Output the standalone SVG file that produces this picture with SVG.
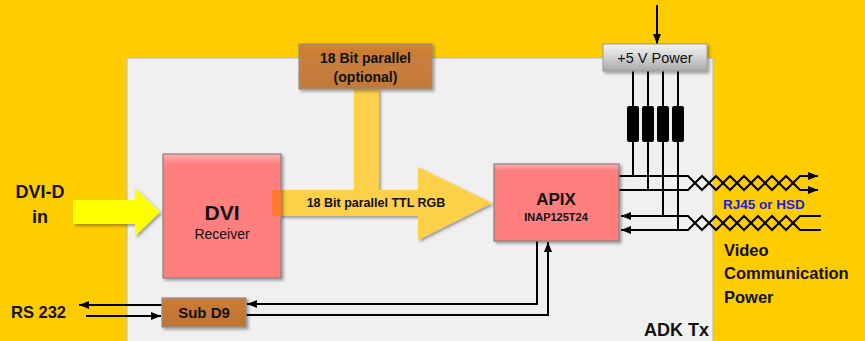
<svg xmlns="http://www.w3.org/2000/svg" width="865" height="341" viewBox="0 0 865 341">
<defs>
<style>
text{font-family:"Liberation Sans",Arial,sans-serif;fill:#111}
.b{font-weight:bold}
.ln{fill:none;stroke:#000;stroke-width:2}
.pink{fill:#FF7F7F;stroke:#808080;stroke-width:1.2}
.brown{fill:url(#gBrown);stroke:#8C8C8C;stroke-width:1.2}
.res{fill:#000}
</style>
<linearGradient id="gBrown" x1="0" y1="0" x2="0" y2="1">
<stop offset="0" stop-color="#D4823A"/><stop offset="0.15" stop-color="#C97A36"/><stop offset="1" stop-color="#C07432"/>
</linearGradient>
<linearGradient id="gGray" x1="0" y1="0" x2="0" y2="1">
<stop offset="0" stop-color="#F4F4F4"/><stop offset="0.5" stop-color="#D2D2D2"/><stop offset="1" stop-color="#A8A8A8"/>
</linearGradient>
<linearGradient id="gTop" x1="0" y1="0" x2="0" y2="1">
<stop offset="0" stop-color="#fff" stop-opacity="0.35"/><stop offset="0.08" stop-color="#fff" stop-opacity="0"/>
</linearGradient>
<filter id="sh" x="-10%" y="-10%" width="130%" height="130%">
<feDropShadow dx="2" dy="2" stdDeviation="1.5" flood-color="#000" flood-opacity="0.35"/>
</filter>
<marker id="ah" viewBox="0 0 10 8" refX="10" refY="4" markerWidth="11" markerHeight="8" markerUnits="userSpaceOnUse" orient="auto">
<path d="M0,0 L10,4 L0,8 z" fill="#000"/>
</marker>
</defs>
<rect x="0" y="0" width="865" height="341" fill="#FFCC00"/>
<g id="panel">
<rect x="127" y="58" width="586" height="290" fill="#F0F0F0" stroke="#B8B8B8" stroke-width="1"/>
<text x="709" y="336" class="b" font-size="18" text-anchor="end">ADK Tx</text>
</g>
<g id="connectors">
<polygon id="dvi-in-arrow" points="73,200 135,200 135,188 160,212 135,236 135,224 73,224" fill="#FFFF00" filter="url(#sh)"/>
<polygon id="rgb-bus" points="272,190 354,190 354,89 379,89 379,190 418,190 418,167 492,203 418,240 418,216 272,216" fill="#FDD048" filter="url(#sh)"/>
<line class="ln" x1="657" y1="5" x2="657" y2="44" marker-end="url(#ah)"/>
<line class="ln" x1="633" y1="71" x2="633" y2="176"/>
<line class="ln" x1="648" y1="71" x2="648" y2="190"/>
<line class="ln" x1="663" y1="71" x2="663" y2="216"/>
<line class="ln" x1="678" y1="71" x2="678" y2="230"/>
<polyline class="ln" points="619,176 688,176 702,190 716,176 730,190 744,176 758,190 772,176 786,190 800,176 818,176" marker-end="url(#ah)"/>
<polyline class="ln" points="619,190 688,190 702,176 716,190 730,176 744,190 758,176 772,190 786,176 800,190 818,190" marker-end="url(#ah)"/>
<polyline class="ln" points="821,216 800,216 786,230 772,216 758,230 744,216 730,230 716,216 702,230 688,216 621,216" marker-end="url(#ah)"/>
<polyline class="ln" points="821,230 800,230 786,216 772,230 758,216 744,230 730,216 716,230 702,216 688,230 621,230" marker-end="url(#ah)"/>
<polyline class="ln" points="537,241 537,304 247,304" marker-end="url(#ah)"/>
<polyline class="ln" points="246,315 548,315 548,242" marker-end="url(#ah)"/>
<line class="ln" x1="162" y1="305" x2="79" y2="305" marker-end="url(#ah)"/>
<line class="ln" x1="86" y1="316" x2="161" y2="316" marker-end="url(#ah)"/>
</g>
<g id="resistors">
<rect class="res" x="627" y="106" width="12" height="36" rx="2"/>
<rect class="res" x="642" y="106" width="12" height="36" rx="2"/>
<rect class="res" x="657" y="106" width="12" height="36" rx="2"/>
<rect class="res" x="672" y="106" width="12" height="36" rx="2"/>
</g>
<g id="dvi-receiver">
<rect class="pink" x="163" y="154" width="118" height="124" filter="url(#sh)"/>
<rect x="163.6" y="154.6" width="116.8" height="122.8" fill="url(#gTop)"/>
<rect x="272" y="190" width="9" height="26" fill="#FF7A2E"/>
<text x="222" y="220" class="b" font-size="21" text-anchor="middle">DVI</text>
<text x="222" y="239" font-size="14" text-anchor="middle">Receiver</text>
</g>
<g id="rgb-label">
<text x="376" y="207" class="b" font-size="12.5" text-anchor="middle">18 Bit parallel TTL RGB</text>
</g>
<g id="parallel-optional">
<rect class="brown" x="299" y="44" width="133" height="45" filter="url(#sh)" opacity="0.95"/>
<text x="365.5" y="63" class="b" font-size="14" text-anchor="middle">18 Bit parallel</text>
<text x="365.5" y="82" class="b" font-size="14" text-anchor="middle">(optional)</text>
</g>
<g id="apix">
<rect class="pink" x="494" y="164" width="125" height="77" filter="url(#sh)"/>
<rect x="494.6" y="164.6" width="123.8" height="75.8" fill="url(#gTop)"/>
<text x="556" y="205" class="b" font-size="17" text-anchor="middle">APIX</text>
<text x="556" y="221" class="b" font-size="11" text-anchor="middle">INAP125T24</text>
</g>
<g id="power">
<rect x="603" y="44" width="104" height="27" fill="url(#gGray)" stroke="#9A9A9A" stroke-width="1" filter="url(#sh)"/>
<text x="655" y="63" font-size="14.5" text-anchor="middle">+5 V Power</text>
</g>
<g id="subd9">
<rect class="brown" x="162" y="298" width="84" height="29" filter="url(#sh)"/>
<text x="204" y="318" class="b" font-size="15" text-anchor="middle">Sub D9</text>
</g>
<g id="labels">
<text x="40" y="198" class="b" font-size="18" text-anchor="middle">DVI-D</text>
<text x="40" y="223" class="b" font-size="18" text-anchor="middle">in</text>
<text x="11" y="318" class="b" font-size="16.5">RS 232</text>
<text x="723" y="209" class="b" font-size="13.5" style="fill:#2020D8">RJ45 or HSD</text>
<text x="724" y="256" class="b" font-size="16.5">Video</text>
<text x="724" y="279" class="b" font-size="16.5">Communication</text>
<text x="724" y="303" class="b" font-size="16.5">Power</text>
</g>
</svg>
